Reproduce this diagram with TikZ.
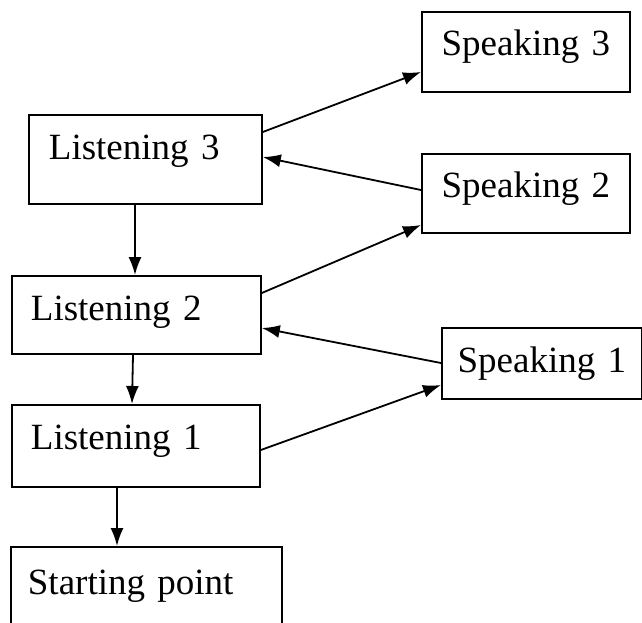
\documentclass[tikz,border=0pt]{standalone}
\usepackage{fontspec}
\setmainfont{Liberation Serif}
\usetikzlibrary{arrows.meta}
\usetikzlibrary{positioning}
\tikzset{every picture/.style={line width=1.8pt}}

\begin{document}
\begin{tikzpicture}[x=1pt,y=-1pt,>={Latex[length=18pt,width=13pt]},
lbox/.style={draw, anchor=north west, inner ysep=0pt, align=left, font=\fontsize{37}{40}\selectfont},
sbox/.style={draw, anchor=north west, inner sep=0pt, align=center, font=\fontsize{37}{40}\selectfont}]
\useasboundingbox (0,0) rectangle (642,622);
% speaking side
\node (s3) at (421,11) [sbox, text width=208pt, text height=44pt, text depth=36pt] {Speaking 3};
\node (s2) at (421,153) [sbox, text width=208pt, text height=44pt, text depth=35pt] {Speaking 2};
\node (s1) at (441,327) [sbox, text width=200pt, text height=45pt, text depth=26pt] {Speaking 1};
% listening side
\node (l3) at (28,114) [lbox, inner xsep=20pt, text width=193pt, text height=45pt, text depth=44pt] {Listening 3};
\node (l2) at (11,275) [lbox, inner xsep=19pt, text width=211pt, text height=45pt, text depth=33pt] {Listening 2};
\node (l1) at (11,404) [lbox, inner xsep=19pt, text width=210pt, text height=45pt, text depth=37pt] {Listening 1};
\node (sp) at (10,546) [lbox, inner xsep=17pt, text width=237pt, text height=48pt, text depth=60pt] {Starting point};
% arrows
\draw[->] ([yshift=-18pt]l3.north east) -- ([yshift=-61pt]s3.north west);
\draw[->] ([yshift=-37pt]s2.north west) -- ([yshift=-43pt]l3.north east);
\draw[->] ([xshift=107pt]l3.south west) -- ([xshift=124pt]l2.north west);
\draw[->] ([yshift=-18pt]l2.north east) -- ([yshift=-72pt]s2.north west);
\draw[->] ([yshift=-36pt]s1.north west) -- ([yshift=-53pt]l2.north east);
\draw[->] ([xshift=122pt]l2.south west) -- ([xshift=121pt]l1.north west);
\draw[->] ([yshift=-46pt]l1.north east) -- ([yshift=-58pt]s1.north west);
\draw[->] ([xshift=106pt]l1.south west) -- ([xshift=107pt]sp.north west);
\end{tikzpicture}
\end{document}
